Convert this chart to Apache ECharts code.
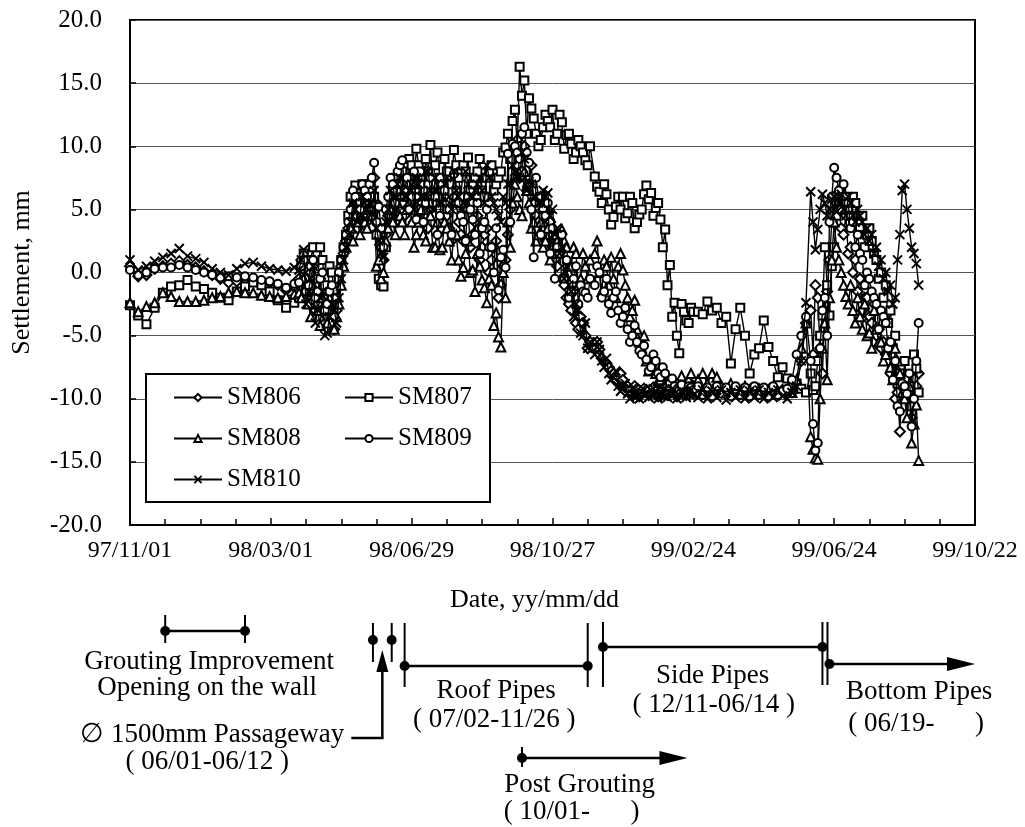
<!DOCTYPE html>
<html>
<head>
<meta charset="utf-8">
<script src="https://cdn.jsdelivr.net/npm/echarts@6.0.0/dist/echarts.min.js"></script>
<style>
html,body{margin:0;padding:0;background:#fff;}
#c{width:1025px;height:827px;}
</style>
</head>
<body>
<div id="c"></div>
<script>
// ---------------- DATA ----------------
// x-axis tick labels (every 120 days starting 97/11/01)
const xTickLabels = ['97/11/01','98/03/01','98/06/29','98/10/27','99/02/24','99/06/24','99/10/22'];
const seriesNames = ['SM806','SM807','SM808','SM809','SM810'];

// measurement day number (days since 1997-11-01)
const dayNo = [
  0,7,14,21,28,35,42,49,56,63,70,77,84,91,98,105,112,119,126,133,140,
  144,148,152,156,160,164,168,172,176,180,184,188,192,196,200,
  204,208,212,216,220,224,228,232,236,
  240,244,248,252,256,260,264,268,272,276,280,284,288,292,296,300,304,308,312,316,320,324,
  328,332,336,340,344,348,352,356,360,364,368,372,376,380,384,388,392,
  396,400,404,408,412,416,420,424,428,432,436,440,444,448,452,456,460,464,468,472,476,480,
  484,488,492,496,500,504,508,512,516,520,524,528,532,536,540,544,548,552,556,560,564,568,572,576,580,584,588,592,
  596,600,604,608,612,616,620,624,628,632,636,640,644,648,652,656,660,664,668,672
];
// extra readings inside the dense period (98/03 - 98/11)
const dayNo2 = [
  146,150,154,158,162,166,170,174,178,182,
  186,190,194,198,202,206,210,214,218,222,
  226,230,234,238,242,246,250,254,258,262,
  266,270,274,278,282,286,290,294,298,302,
  306,310,314,318,322,326,330,334,338,342,
  346,350,354,358,362,366,370,374,378,382,
  386,390
];
// extra readings 98/12 - 99/01 and 99/06 - 99/09
const dayNo3 = [
  398,402,406,410,414,418,422,426,430,434,438,442,446,450,454,458,462,466,470,474,478,
  582,586,590,594,
  598,602,606,610,614,618,622,626,630,634,638,642,646,650,654,658,662,666,670
];

// settlement, mm
const sm806 = [
  0.5,-0.3,-0.2,0.3,0.5,0.7,0.9,0.6,0.4,0.1,-0.2,-0.5,-0.8,-0.7,-0.5,-0.6,-0.7,-0.8,-1.0,-1.4,-1.1,
  -0.5,0.8,-1.5,0.5,-2.5,-1.0,-3.5,-1.5,-3.0,0.5,2.5,4.5,5.5,4.0,5.0,
  6.0,7.5,3.0,1.0,4.5,6.0,7.0,5.5,6.5,
  5.5,6.5,4.0,6.5,5.0,7.0,4.0,5.5,3.5,6.0,4.0,2.5,5.0,3.0,4.5,2.0,3.5,1.0,2.5,-1.0,1.0,5.0,
  9.0,7.5,10.0,7.0,5.5,4.0,5.0,3.0,2.0,0.5,-0.5,-2.0,-3.0,-4.0,-3.5,-5.0,-5.5,
  -6.0,-6.1,-7.0,-7.5,-8.0,-8.3,-8.5,-9.0,-9.6,-9.2,-9.5,-9.3,-9.6,-9.4,-9.5,-9.6,-9.3,-9.5,-9.6,-9.4,-9.5,-9.6,
  -9.5,-9.3,-9.6,-9.4,-9.6,-9.5,-9.3,-9.6,-9.5,-9.4,-9.6,-9.5,-9.3,-9.6,-9.5,-9.4,-9.6,-9.5,-9.3,-9.6,-9.5,-9.0,-7.0,-4.0,-3.0,-1.0,-6.0,-3.0,
  1.0,6.0,5.0,3.0,1.5,0.0,-1.5,-3.0,-2.0,-4.0,-5.0,-6.0,-6.5,-8.0,-10.0,-12.6,-8.0,-9.5,-10.5,-8.0
];
const sm806b = [
  1.0,-2.0,0.0,-3.0,-0.5,-4.0,-2.0,-4.5,-1.0,1.5,
  3.5,6.0,3.5,6.0,4.5,5.0,5.5,2.0,3.0,5.0,
  4.0,6.5,4.5,7.5,4.0,5.0,7.5,3.5,6.0,3.0,
  6.5,4.5,2.5,5.5,3.0,6.0,2.0,4.0,1.0,3.0,
  0.0,2.0,-2.0,0.5,3.0,7.0,10.5,8.0,6.5,8.5,
  4.5,6.0,2.5,4.0,1.0,1.5,-1.0,-2.5,-1.5,-4.5,
  -4.0,-6.0
];
const sm806c = [
  -5.5,-6.8,-7.2,-7.8,-8.6,-8.0,-9.1,-9.3,-9.0,-9.8,-9.2,-9.7,-9.1,-9.8,-9.2,-9.7,-9.1,-9.8,-9.3,-9.7,-9.2,
  -6.5,-2.0,-8.0,-1.5,
  4.0,5.5,3.5,4.5,2.0,1.0,-0.5,-2.0,-3.5,-2.5,-4.5,-5.5,-7.0,-7.5,-9.5,-8.5,-10.5,-11.5,-9.0
];
const sm807 = [
  -2.6,-3.4,-4.1,-2.8,-1.6,-1.1,-1.0,-0.6,-1.1,-1.3,-1.6,-2.0,-2.2,-1.5,-1.1,-0.8,-1.0,-1.5,-2.2,-2.8,-2.4,
  -2.0,1.5,-1.0,2.0,-0.5,1.0,-2.0,0.0,-2.5,1.0,3.0,6.0,6.9,5.5,6.5,
  7.0,6.0,-0.5,-1.1,5.0,6.5,7.5,8.0,7.0,
  8.5,9.8,8.0,9.0,10.1,8.5,7.5,9.0,8.0,9.7,7.5,8.5,9.1,7.0,8.0,6.5,7.5,8.5,7.0,8.0,9.9,9.0,
  12.9,16.3,15.2,13.8,12.2,10.0,11.5,12.0,12.9,11.0,11.9,10.9,10.2,9.5,10.0,8.9,10.0,
  7.6,6.4,7.0,5.0,4.4,6.0,6.0,4.7,5.5,4.0,5.0,6.9,6.3,5.1,4.2,3.4,0.6,-2.4,-6.4,-3.1,-4.0,-3.1,
  -3.1,-3.3,-2.3,-3.0,-2.8,-4.0,-3.5,-7.2,-4.5,-2.8,-5.0,-8.0,-6.5,-6.0,-3.8,-5.9,-7.0,-8.3,-7.5,-8.4,-9.0,-8.8,-9.2,-9.5,-8.0,-9.0,-5.0,2.0,
  -3.4,2.0,5.5,6.0,5.0,6.0,4.0,4.5,3.0,2.5,1.0,0.0,-1.0,-3.0,-5.0,-8.0,-7.0,-9.0,-6.5,-9.5
];
const sm807b = [
  0.5,-1.5,1.0,-1.0,2.0,-1.0,0.5,-1.5,-0.5,2.0,
  4.5,5.0,6.0,7.0,5.5,6.5,3.0,-1.0,2.0,6.0,
  5.5,7.0,6.0,9.0,7.0,8.5,6.5,8.0,7.0,9.5,
  6.5,8.0,7.0,8.5,6.0,8.0,6.5,7.5,9.0,6.0,
  8.0,6.5,7.5,9.5,11.0,12.0,10.0,14.0,11.0,13.0,
  11.0,10.5,12.5,11.5,10.5,12.5,9.8,11.0,9.0,10.5,
  9.5,8.5
];
const sm807c = [
  6.8,5.5,6.2,3.8,5.2,5.0,4.3,6.0,3.5,4.6,6.2,5.8,4.5,5.5,2.0,-1.0,-3.5,-5.0,-2.5,-3.8,-2.8,
  -9.3,-7.0,-3.4,-1.0,
  0.5,4.5,6.5,5.5,4.5,5.5,3.5,2.0,3.5,1.5,-0.5,-2.0,-4.0,-6.0,-8.8,-10.6,-8.5,-10.6,-7.6
];
const sm808 = [
  -2.4,-3.1,-2.7,-2.4,-1.6,-1.9,-2.3,-2.3,-2.3,-2.2,-2.0,-1.9,-1.6,-1.5,-1.6,-1.6,-1.8,-1.9,-2.0,-1.9,-1.7,
  -1.6,-0.5,-2.5,-1.0,-3.0,-2.0,-4.0,-2.5,-3.5,-1.0,2.0,3.5,4.5,3.0,4.0,
  4.5,5.5,1.0,0.0,3.5,4.0,5.5,4.0,5.0,
  4.0,3.0,5.0,2.5,4.5,2.0,1.8,4.0,2.5,3.0,1.0,0.4,2.5,0.2,1.5,-0.6,-2.4,-1.0,-3.2,-5.9,-2.0,2.0,
  7.0,5.0,8.0,5.5,4.0,3.0,2.0,3.5,1.5,2.5,3.4,2.0,0.5,1.5,-0.5,0.5,1.0,
  1.5,0.0,1.0,-1.0,-0.5,0.5,0.2,-2.0,-3.0,-4.5,-6.0,-7.0,-7.5,-8.0,-8.5,-8.8,-9.0,-9.2,-9.0,-9.3,-8.5,-9.0,
  -8.5,-8.0,-8.8,-8.0,-8.3,-9.0,-9.3,-8.8,-9.2,-9.5,-9.0,-9.3,-9.5,-9.2,-9.5,-9.3,-9.6,-9.4,-9.5,-9.3,-9.5,-8.5,-6.0,-4.0,-13.0,-14.7,-10.0,-4.0,
  -2.0,4.0,1.0,-1.0,-2.5,-3.0,-2.0,-4.5,-5.0,-6.0,-4.5,-5.5,-6.5,-7.5,-6.0,-8.0,-10.0,-9.0,-12.0,-14.9
];
const sm808b = [
  -2.0,-1.0,-3.5,-1.5,-4.2,-3.0,-2.0,-4.5,-2.5,0.5,
  3.0,2.5,4.0,5.0,3.5,4.5,0.5,-0.5,2.5,5.0,
  3.0,4.5,3.0,5.5,2.0,4.0,3.0,5.5,2.0,4.0,
  2.0,3.5,1.0,3.0,-0.3,1.5,0.0,-1.5,0.5,-1.2,
  -0.5,-4.2,-5.1,0.0,4.0,5.5,6.0,4.5,6.5,3.5,
  2.5,4.0,2.5,1.0,3.0,1.5,2.5,0.0,2.0,-1.0,
  1.5,-0.5
];
const sm808c = [
  2.5,-1.5,0.5,1.2,-2.0,1.5,-1.0,-3.5,-2.2,-5.5,-5.0,-7.8,-6.8,-8.6,-8.2,-9.4,-8.6,-9.5,-8.2,-9.0,-8.0,
  -14.0,-14.8,-6.0,-8.5,
  1.0,2.0,0.0,-1.9,-1.0,-4.0,-3.5,-2.5,-4.8,-3.0,-5.5,-7.0,-5.5,-8.5,-7.0,-9.5,-11.5,-13.5,-10.5
];
const sm809 = [
  0.2,-0.2,0.0,0.3,0.4,0.4,0.6,0.4,0.2,0.0,-0.2,-0.4,-0.3,-0.4,-0.3,-0.4,-0.6,-0.7,-0.9,-1.2,-0.9,
  -0.8,1.0,-1.0,1.0,-1.5,0.0,-2.5,-1.0,-2.0,1.0,3.0,5.0,6.0,5.0,6.5,
  7.0,8.7,5.2,2.0,6.0,7.0,8.0,8.9,7.5,
  6.0,4.2,7.0,5.5,7.5,6.0,4.5,6.5,5.0,7.8,5.5,4.0,6.0,4.2,5.5,3.5,5.0,2.0,3.5,1.2,0.4,4.0,
  10.0,9.0,11.5,8.7,1.2,6.0,4.5,5.5,3.5,2.0,3.0,1.0,-1.5,0.5,-1.0,-1.6,-0.5,
  -1.0,0.0,-1.5,-2.5,-2.0,-3.0,-3.5,-4.5,-5.0,-5.5,-6.5,-6.9,-7.5,-7.0,-8.3,-8.0,-8.8,-9.0,-9.3,-9.5,-9.0,-9.3,
  -9.0,-9.7,-9.1,-9.8,-9.0,-9.6,-9.1,-9.8,-9.0,-9.7,-9.1,-9.8,-9.0,-9.7,-9.1,-9.8,-9.0,-9.7,-9.4,-9.2,-8.5,-6.5,-5.0,-3.5,-7.0,-14.1,-6.0,-2.0,
  4.0,8.3,6.5,7.0,5.5,4.0,3.0,1.0,0.0,-1.5,-2.5,-3.0,-4.0,-5.5,-7.0,-11.0,-9.0,-8.0,-10.0,-4.0
];
const sm809b = [
  0.5,-1.5,0.5,-2.0,-0.5,-3.0,-1.5,-3.5,0.0,2.0,
  4.0,6.5,5.0,7.0,6.0,7.5,4.0,3.5,5.0,7.5,
  5.5,8.5,6.5,5.0,8.0,6.0,4.0,7.0,5.5,3.0,
  7.0,5.0,3.0,6.5,4.5,2.5,5.0,3.0,1.5,4.0,
  2.0,0.0,-1.4,1.8,9.4,10.2,9.5,11.0,9.5,5.0,
  7.5,3.0,4.5,1.5,-0.5,1.5,-0.5,-2.0,-0.5,-2.5,
  -1.5,-2.0
];
const sm809c = [
  0.5,-2.0,-0.5,-3.2,-1.5,-4.0,-2.8,-5.5,-4.2,-6.2,-5.8,-7.8,-6.5,-8.0,-7.5,-9.0,-8.4,-9.6,-8.9,-9.7,-9.1,
  -12.0,-13.5,-3.0,-5.0,
  6.0,7.5,5.0,6.0,3.5,2.0,1.5,-1.0,-0.5,-2.0,-4.5,-3.5,-6.0,-8.5,-10.6,-8.8,-9.6,-12.2,-7.0
];
const sm810 = [
  1.0,0.2,0.5,0.9,1.2,1.5,1.9,1.3,1.1,0.8,0.3,0.0,-0.2,0.3,0.7,0.8,0.5,0.3,0.2,0.1,0.4,
  0.2,1.8,-1.5,0.5,-3.0,-1.5,-4.8,-2.5,-4.0,-0.5,2.0,4.0,5.0,4.5,5.5,
  5.5,6.5,2.5,1.2,5.0,6.0,7.0,6.5,6.0,
  7.0,7.5,6.0,8.0,6.5,7.5,5.5,7.0,6.0,8.0,6.0,5.5,7.0,6.0,7.0,6.5,8.5,6.0,5.0,4.0,5.5,7.0,
  8.0,7.5,9.0,7.2,6.0,5.5,6.5,6.3,5.0,3.5,2.0,0.5,-1.5,-2.5,-4.8,-4.0,-5.5,
  -6.5,-6.1,-7.5,-8.0,-8.3,-9.0,-9.2,-9.6,-9.6,-9.8,-9.5,-9.6,-9.7,-9.5,-9.6,-9.8,-9.5,-9.6,-9.7,-9.5,-9.6,-9.7,
  -9.9,-9.3,-10.0,-9.4,-9.9,-9.3,-10.1,-9.5,-9.9,-9.3,-10.0,-9.4,-9.9,-9.3,-10.0,-9.5,-9.9,-9.3,-9.8,-10.0,-9.5,-9.0,-7.0,-2.4,6.4,1.8,5.0,5.5,
  5.0,6.0,5.5,5.0,6.0,4.5,5.0,4.0,3.5,3.0,2.0,1.0,0.0,-1.0,-2.0,3.0,7.0,3.5,1.5,-1.0
];
const sm810b = [
  1.0,-2.5,-0.5,-4.0,-2.0,-5.0,-3.5,-3.0,-2.0,1.0,
  3.0,5.5,4.0,6.0,5.0,4.0,3.5,1.5,4.0,6.5,
  5.0,7.5,6.0,6.5,5.0,7.0,6.0,8.0,5.0,6.5,
  5.5,7.5,5.0,6.5,5.0,8.0,6.0,6.5,7.5,5.5,
  7.5,5.5,4.5,6.0,7.0,8.5,7.5,9.5,6.5,7.0,
  6.0,5.5,6.0,4.5,3.0,1.5,-0.5,-1.0,-3.5,-3.0,
  -5.0,-6.0
];
const sm810c = [
  -5.5,-7.0,-6.8,-8.5,-7.8,-9.4,-8.8,-10.0,-9.2,-10.0,-9.3,-9.9,-9.2,-10.0,-9.3,-9.9,-9.2,-10.0,-9.4,-9.9,-9.3,
  4.0,3.4,6.2,4.5,
  5.8,4.8,6.2,4.5,5.5,4.0,4.5,3.0,2.5,1.5,0.5,-0.5,-1.5,-2.5,1.0,6.5,5.0,2.0,0.7
];

// construction stages (day numbers since 1997-11-01)
const stageNames  = ['Grouting Improvement','Passageway','Roof Pipes','Side Pipes','Bottom Pipes','Post Grouting'];
const stageStart  = [30, 207, 234, 403, 596, 334];
const stageEnd    = [98, 223, 390, 590, 720, 475];
const stageText   = [
  ['Grouting Improvement','Opening on the wall'],
  ['\u2205 1500mm Passageway','( 06/01-06/12 )'],
  ['Roof Pipes','( 07/02-11/26 )'],
  ['Side Pipes','( 12/11-06/14 )'],
  ['Bottom Pipes','( 06/19-      )'],
  ['Post Grouting','( 10/01-      )']
];

// ---------------- LAYOUT / STYLE ----------------
const FONT = '"Liberation Serif","Times New Roman",serif';
const sets = [
  {days:dayNo,  vals:[sm806, sm807, sm808, sm809, sm810]},
  {days:dayNo2, vals:[sm806b, sm807b, sm808b, sm809b, sm810b]},
  {days:dayNo3, vals:[sm806c, sm807c, sm808c, sm809c, sm810c]}
];
sets.forEach((s, j) => s.vals.forEach((a, k) => {
  if (a.length !== s.days.length) throw new Error(seriesNames[k] + ' set ' + j + ' length ' + a.length + ' vs ' + s.days.length);
}));

function seriesPoints(k) {
  let pts = [];
  sets.forEach(s => { pts = pts.concat(s.days.map((d, i) => [d, s.vals[k][i]])); });
  pts.sort((a, b) => a[0] - b[0]);
  return pts;
}

const markerStyles = [
  {symbol:'diamond', size:10},
  {symbol:'rect', size:8},
  {symbol:'triangle', size:9},
  {symbol:'circle', size:8},
  {symbol:'path://M0,0L10,10M10,0L0,10', size:9}
];

// stage sketch layout: offsets (px) from the top of the sketch grid
const tlLayout = [
  {y:41, bar:true,  s:[-16,12], e:[-16,12], arrow:false, labels:[[4,72],[2,98]]},
  {y:50, bar:false, s:[-17,22], e:[-17,22], arrow:false, labels:[[-170,145],[-175,172]], pointer:{tipY:60, baseY:148, toDx:-31}},
  {y:76, bar:true,  s:[-43,21], e:[-43,21], arrow:false, labels:[[0,101],[-2,130]]},
  {y:57, bar:true,  s:[-25,40], e:[-25,38], arrow:false, labels:[[0,86],[1,115]]},
  {y:74, bar:true,  s:[-42,21], e:null, arrow:true, sdx:-2, labels:[[17,102],[14,134]]},
  {y:168,bar:true,  s:[-11,9],  e:null, arrow:true, labels:[[-25,195],[-33,222]]}
];

function renderStage(params, api) {
  const i = params.dataIndex;
  const L = tlLayout[i];
  const x0 = api.coord([api.value(0), 0])[0];
  const x1 = api.coord([api.value(1), 0])[0];
  const top = params.coordSys.y;
  const y = top + L.y;
  const ch = [];
  const lineStyle = {stroke:'#000', lineWidth:2.5};
  const tickStyle = {stroke:'#000', lineWidth:2};
  if (L.bar) {
    ch.push({type:'line', shape:{x1:x0, y1:y, x2:L.arrow ? x1 - 20 : x1, y2:y}, style:lineStyle});
  }
  const sx = x0 + (L.sdx || 0);
  ch.push({type:'line', shape:{x1:sx, y1:y + L.s[0], x2:sx, y2:y + L.s[1]}, style:tickStyle});
  ch.push({type:'circle', shape:{cx:x0, cy:y, r:5}, style:{fill:'#000'}});
  if (L.arrow) {
    ch.push({type:'polygon', shape:{points:[[x1, y], [x1 - 28, y - 7], [x1 - 28, y + 7]]}, style:{fill:'#000'}});
  } else {
    ch.push({type:'line', shape:{x1:x1, y1:y + L.e[0], x2:x1, y2:y + L.e[1]}, style:tickStyle});
    ch.push({type:'circle', shape:{cx:x1, cy:y, r:5}, style:{fill:'#000'}});
  }
  const mid = (x0 + x1) / 2;
  if (L.pointer) {
    const P = L.pointer;
    ch.push({type:'line', shape:{x1:mid, y1:top + P.baseY, x2:mid, y2:top + P.tipY + 18}, style:lineStyle});
    ch.push({type:'line', shape:{x1:mid + P.toDx, y1:top + P.baseY, x2:mid + 1.2, y2:top + P.baseY}, style:lineStyle});
    ch.push({type:'polygon', shape:{points:[[mid, top + P.tipY], [mid - 6, top + P.tipY + 22], [mid + 6, top + P.tipY + 22]]}, style:{fill:'#000'}});
  }
  stageText[i].forEach((t, j) => {
    ch.push({type:'text', x:mid + L.labels[j][0], y:top + L.labels[j][1],
      style:{text:t, fill:'#000', fontSize:27, fontFamily:FONT, align:'center', verticalAlign:'middle'}});
  });
  return {type:'group', children:ch};
}

const chart = echarts.init(document.getElementById('c'), null, {renderer:'canvas'});

const option = {
  animation:false,
  backgroundColor:'#fff',
  grid:[
    {left:130, right:50, top:20, bottom:302, show:true, borderColor:'#000', borderWidth:2, outerBoundsMode:'none', containLabel:false},
    {left:130, right:50, top:590, height:230, show:false, outerBoundsMode:'none', containLabel:false}
  ],
  xAxis:[
    {
      type:'value', gridIndex:0, min:0, max:720, interval:120,
      name:'Date, yy/mm/dd', nameLocation:'middle', nameGap:62,
      nameTextStyle:{fontFamily:FONT, fontSize:26, color:'#000', padding:[0,36,0,0]},
      axisLine:{show:true, onZero:false, lineStyle:{color:'#000', width:2}},
      axisTick:{show:true, inside:true, length:7, lineStyle:{color:'#000', width:1.5}},
      minorTick:{show:true, splitNumber:4, length:6, lineStyle:{color:'#000', width:1.5}},
      axisLabel:{formatter:v => xTickLabels[Math.round(v / 120)] || '', fontFamily:FONT, fontSize:24, color:'#000', margin:14, showMinLabel:true, showMaxLabel:true},
      splitLine:{show:false}
    },
    {type:'value', gridIndex:1, min:0, max:720, show:false}
  ],
  yAxis:[
    {
      type:'value', gridIndex:0, min:-20, max:20, interval:5,
      name:'Settlement, mm', nameLocation:'middle', nameGap:95, nameRotate:90,
      nameTextStyle:{fontFamily:FONT, fontSize:26, color:'#000'},
      axisLine:{show:true, lineStyle:{color:'#000', width:2}},
      axisTick:{show:true, inside:true, length:6, lineStyle:{color:'#000', width:1.5}},
      axisLabel:{formatter:v => v.toFixed(1), fontFamily:FONT, fontSize:25, color:'#000', margin:28},
      splitLine:{show:true, lineStyle:{color:'#555', width:1}}
    },
    {type:'value', gridIndex:1, min:0, max:1, show:false}
  ],
  legend:[
    {data:['SM806','SM808','SM810'], orient:'vertical', left:168, top:379, itemWidth:48, itemHeight:9, itemGap:14, z:20,
     textStyle:{fontFamily:FONT, fontSize:25, color:'#000', lineHeight:27}, selectedMode:false},
    {data:['SM807','SM809'], orient:'vertical', left:339, top:379, itemWidth:48, itemHeight:9, itemGap:14, z:20,
     textStyle:{fontFamily:FONT, fontSize:25, color:'#000', lineHeight:27}, selectedMode:false}
  ],
  graphic:[
    {type:'rect', shape:{x:146, y:374, width:344, height:128}, style:{fill:'#fff', stroke:'#000', lineWidth:2}, z:10, silent:true}
  ],
  series: seriesNames.map((name, k) => ({
    name:name, type:'line', xAxisIndex:0, yAxisIndex:0,
    data: seriesPoints(k),
    symbol: markerStyles[k].symbol, symbolSize: markerStyles[k].size,
    showSymbol:true,
    lineStyle:{color:'#000', width:1.4},
    itemStyle: k === 4 ? {color:'#000', borderColor:'#000', borderWidth:2} : {color:'#fff', borderColor:'#000', borderWidth:2},
    z: 2 + k, silent:true
  })).concat([{
    type:'custom', name:'stages', xAxisIndex:1, yAxisIndex:1, silent:true, clip:false,
    renderItem: renderStage,
    data: stageNames.map((n, i) => [stageStart[i], stageEnd[i]])
  }])
};
chart.setOption(option);
</script>
</body>
</html>
